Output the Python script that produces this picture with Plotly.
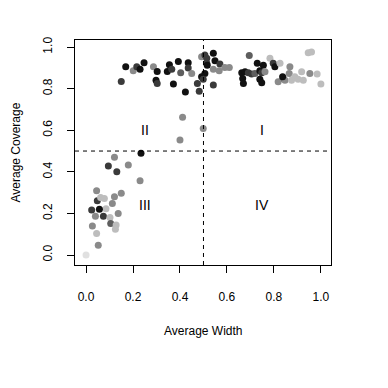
import plotly.graph_objects as go

# average width / average coverage per item, with grey shade of each point
width = [
    0.169, 0.201, 0.216, 0.230, 0.247, 0.287, 0.303, 0.298, 0.303, 0.150,
    0.346, 0.355, 0.365, 0.393, 0.403, 0.435, 0.435, 0.450, 0.372, 0.423,
    0.474, 0.482, 0.492, 0.506, 0.514, 0.492, 0.506, 0.499, 0.542, 0.514,
    0.549, 0.516, 0.570, 0.542, 0.567, 0.591, 0.610, 0.542, 0.695, 0.783,
    0.729, 0.755, 0.663, 0.677, 0.691, 0.705, 0.719, 0.740, 0.748, 0.762,
    0.667, 0.670, 0.740, 0.748, 0.797, 0.804, 0.826, 0.840, 0.818, 0.847,
    0.868, 0.865, 0.875, 0.889, 0.903, 0.918, 0.925, 0.953, 0.984, 1.000,
    0.946, 0.960, 0.837,
    0.411, 0.499, 0.400, 0.234, 0.121,
    0.095, 0.131, 0.180, 0.230, 0.045, 0.048, 0.062, 0.078, 0.121, 0.150,
    0.112, 0.085, 0.024, 0.057, 0.040, 0.074, 0.102, 0.137, 0.105, 0.128,
    0.125, 0.027, 0.045, 0.052, 0.000,
]
coverage = [
    0.905, 0.886, 0.905, 0.893, 0.925, 0.905, 0.883, 0.841, 0.825, 0.835,
    0.883, 0.915, 0.893, 0.931, 0.877, 0.925, 0.899, 0.873, 0.822, 0.784,
    0.825, 0.787, 0.953, 0.962, 0.922, 0.857, 0.873, 0.845, 0.970, 0.946,
    0.934, 0.913, 0.918, 0.893, 0.886, 0.902, 0.902, 0.817, 0.960, 0.946,
    0.922, 0.912, 0.877, 0.881, 0.877, 0.870, 0.873, 0.886, 0.877, 0.881,
    0.849, 0.825, 0.845, 0.829, 0.922, 0.905, 0.922, 0.849, 0.833, 0.841,
    0.905, 0.873, 0.841, 0.857, 0.845, 0.881, 0.841, 0.873, 0.870, 0.822,
    0.973, 0.976, 0.857,
    0.662, 0.609, 0.553, 0.489, 0.470,
    0.428, 0.401, 0.433, 0.357, 0.309, 0.261, 0.277, 0.272, 0.280, 0.297,
    0.248, 0.223, 0.216, 0.220, 0.186, 0.186, 0.181, 0.200, 0.152, 0.144,
    0.124, 0.139, 0.104, 0.047, 0.000,
]
shade = [
    "k", "g", "d", "k", "k", "g", "k", "k", "d", "d",
    "k", "k", "d", "k", "m", "k", "d", "g", "k", "k",
    "d", "d", "g", "d", "d", "k", "k", "d", "k", "d",
    "k", "k", "d", "g", "g", "g", "g", "d", "m", "l",
    "k", "k", "k", "k", "d", "d", "m", "k", "d", "g",
    "k", "k", "k", "k", "d", "k", "l", "k", "g", "g",
    "g", "g", "l", "l", "l", "l", "l", "g", "l", "l",
    "l", "l", "k",
    "g", "g", "g", "k", "g",
    "d", "d", "g", "g", "g", "d", "l", "l", "g", "g",
    "g", "l", "d", "k", "g", "d", "l", "g", "m", "l",
    "l", "g", "l", "g", "v",
]
grey = {"k": "#111111", "d": "#3a3a3a", "m": "#5e5e5e", "g": "#8a8a8a",
        "l": "#bdbdbd", "v": "#e0e0e0"}

quad_labels = ["I", "II", "III", "IV"]
quad_x = [0.75, 0.25, 0.25, 0.75]
quad_y = [0.6, 0.6, 0.24, 0.24]

font = "Liberation Sans, Arial, sans-serif"

fig = go.Figure()
fig.add_trace(go.Scatter(
    x=width, y=coverage, mode="markers",
    marker=dict(size=7, color=[grey[s] for s in shade],
                line=dict(width=0)),
    showlegend=False, hoverinfo="skip",
))

fig.add_shape(type="line", x0=0.5, x1=0.5, y0=0, y1=1, yref="paper",
              line=dict(color="black", width=1, dash="4px,4px"))
fig.add_shape(type="line", y0=0.5, y1=0.5, x0=0, x1=1, xref="paper",
              line=dict(color="black", width=1, dash="4px,4px"))

for t, qx, qy in zip(quad_labels, quad_x, quad_y):
    fig.add_annotation(x=qx, y=qy, text=t, showarrow=False,
                       font=dict(family=font, size=14, color="black"))

fig.add_annotation(x=0.5, y=0, xref="paper", yref="paper", yshift=-66,
                   yanchor="middle", text="Average Width", showarrow=False,
                   font=dict(family=font, size=12, color="black"))
fig.add_annotation(x=0, y=0.5, xref="paper", yref="paper", xshift=-60,
                   xanchor="center", text="Average Coverage", textangle=-90,
                   showarrow=False,
                   font=dict(family=font, size=12, color="black"))

axis_common = dict(
    showgrid=False, zeroline=False, showline=True, linecolor="black",
    linewidth=1, mirror=True, ticks="outside", ticklen=7, tickwidth=1,
    tickcolor="black", tickfont=dict(family=font, size=12, color="black"),
    tickvals=[0, 0.2, 0.4, 0.6, 0.8, 1.0], tickformat=".1f",
    automargin=False,
)
fig.update_xaxes(range=[-0.047, 1.043], ticklabelstandoff=14, **axis_common)
fig.update_yaxes(range=[-0.048, 1.034], tickangle=-90, ticklabelstandoff=10,
                 **axis_common)

# page body has an 8px margin, so the figure is drawn 8px smaller
fig.update_layout(
    width=380, height=380,
    margin=dict(l=67, r=57, t=32, b=123),
    plot_bgcolor="white", paper_bgcolor="white",
    font=dict(family=font, size=12, color="black"),
)

fig.write_html("out.html")
